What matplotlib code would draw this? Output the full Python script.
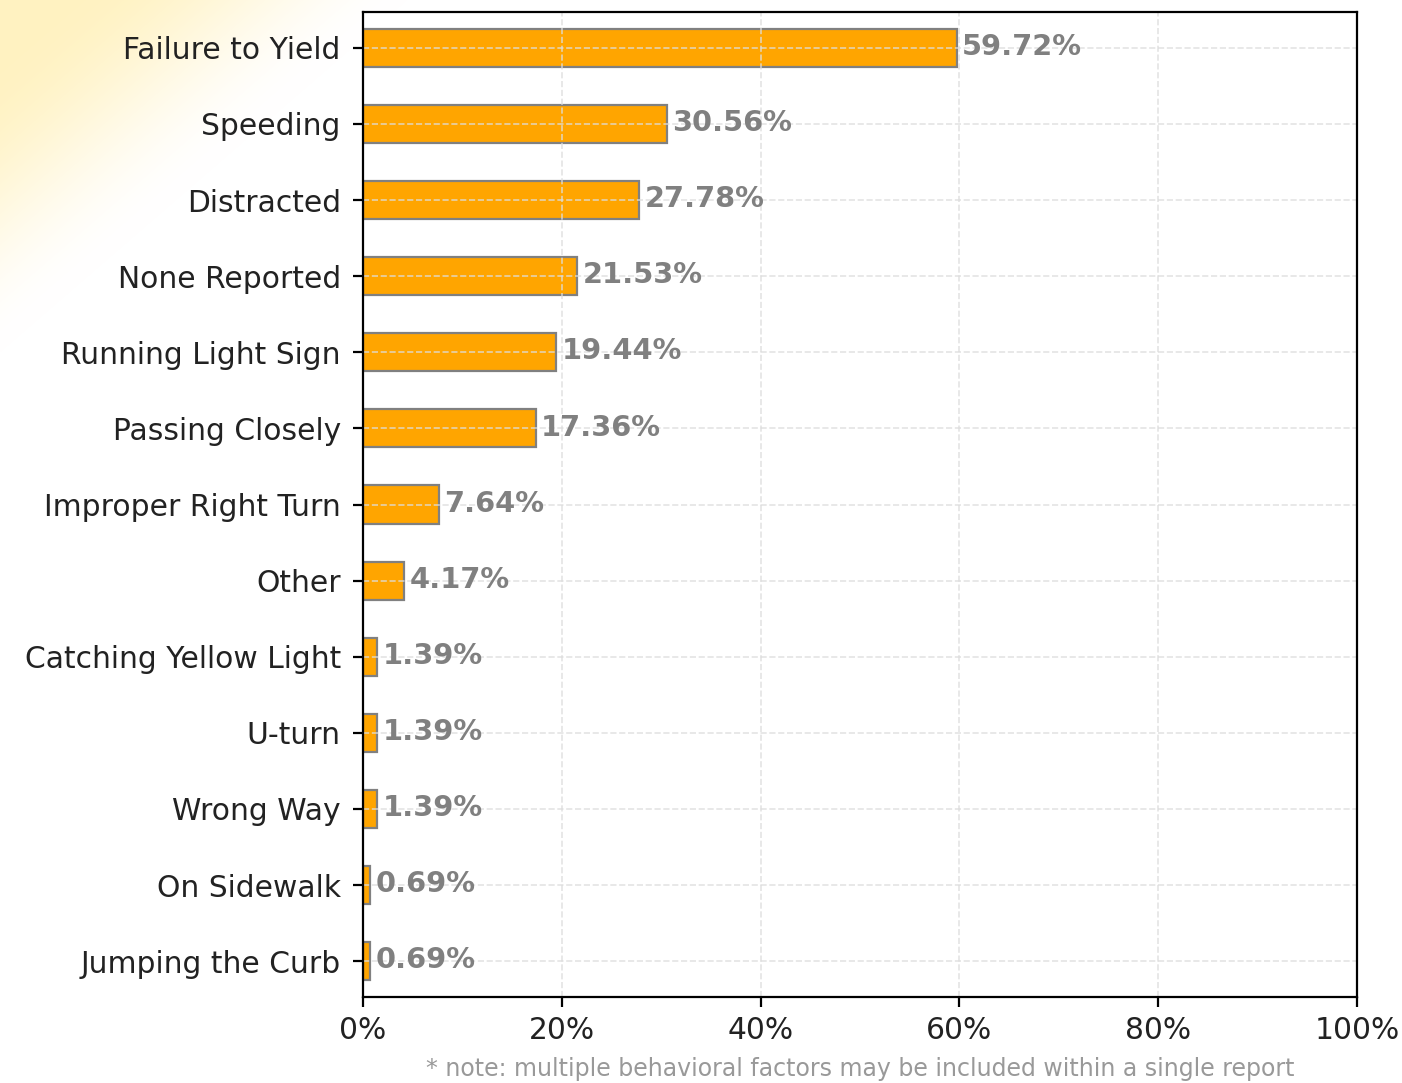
import numpy as np
import matplotlib

matplotlib.use("Agg")
import matplotlib.pyplot as plt
from matplotlib.ticker import FuncFormatter

categories = [
    "Failure to Yield", "Speeding", "Distracted", "None Reported",
    "Running Light Sign", "Passing Closely", "Improper Right Turn", "Other",
    "Catching Yellow Light", "U-turn", "Wrong Way", "On Sidewalk",
    "Jumping the Curb",
]
percents = [59.72, 30.56, 27.78, 21.53, 19.44, 17.36, 7.64, 4.17,
            1.39, 1.39, 1.39, 0.69, 0.69]
x_ticks = [0, 20, 40, 60, 80, 100]
note = "* note: multiple behavioral factors may be included within a single report"

fig = plt.figure(figsize=(7.01, 5.415), dpi=200)

# ---- pale yellow glow in the top-left corner of the figure ---------------
bg = fig.add_axes([0, 0, 1, 1], zorder=-10)
px, py = np.meshgrid(np.arange(1402), np.arange(1083))
d = px / 370 + py / 320
t = np.clip((1.1 - d) / 0.9, 0, 1)
w = t * t * (3 - 2 * t)  # smoothstep
corner = np.array([1.0, 0.95, 0.76])
img = (1 - w[..., None]) + corner * w[..., None]
bg.imshow(img, extent=[0, 1, 0, 1], aspect="auto", origin="upper")
bg.axis("off")

ax = fig.add_axes([363 / 1402, 1 - 997 / 1083, 994 / 1402, 985 / 1083])
y = np.arange(len(categories))
bars = ax.barh(y, percents, height=0.5, color="orange",
               edgecolor="gray", linewidth=0.8)

for b, v in zip(bars, percents):
    ax.annotate(f"{v:.2f}%", xy=(b.get_width(), b.get_y() + b.get_height() / 2),
                xytext=(2, 0.3), textcoords="offset points", ha="left",
                va="center", fontsize=10.4, fontweight="bold", color="gray")

ax.set_yticks(y)
ax.set_yticklabels(categories, fontsize=10.7, color="#222222")
ax.tick_params(axis="y", pad=4.5)
ax.set_ylim(len(categories) - 0.53, -0.47)
ax.set_xlim(0, 100)
ax.set_xticks(x_ticks)
ax.xaxis.set_major_formatter(FuncFormatter(lambda v, _: f"{v:.0f}%"))
ax.tick_params(axis="x", labelsize=10.7, labelcolor="#222222")
ax.grid(True, linestyle="--", color="#dddddd", linewidth=0.6, alpha=0.8)
ax.set_facecolor("white")

ax.text(0.5, -0.061, note, transform=ax.transAxes, ha="center", va="top",
        fontsize=8.5, color="#999999")

fig.savefig("out.png", dpi=200)
